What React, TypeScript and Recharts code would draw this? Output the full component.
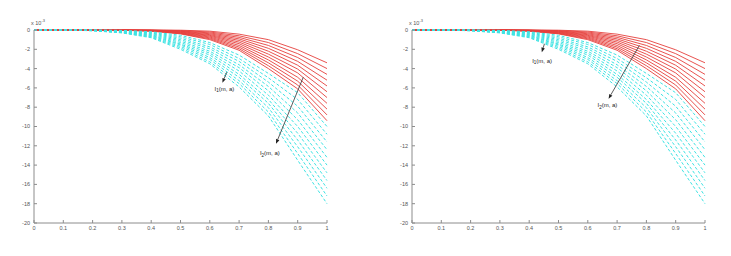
import React from 'react';
import { LineChart, Line, XAxis, YAxis, ReferenceLine, ReferenceDot } from 'recharts';

const xValues = [0, 0.1, 0.2, 0.3, 0.4, 0.5, 0.6, 0.7, 0.8, 0.9, 1];

// solid red family, top to bottom
const redCurves = [
  [0, 0, 0, 0, 0, -0.02, -0.12, -0.43, -1.0, -2.05, -3.4],
  [0, 0, 0, 0, -0.01, -0.06, -0.21, -0.6, -1.3, -2.45, -4.0],
  [0, 0, 0, 0, -0.02, -0.1, -0.3, -0.76, -1.6, -2.85, -4.6],
  [0, 0, 0, 0, -0.03, -0.13, -0.39, -0.92, -1.9, -3.25, -5.2],
  [0, 0, 0, -0.01, -0.04, -0.17, -0.48, -1.08, -2.2, -3.65, -5.8],
  [0, 0, 0, -0.01, -0.05, -0.21, -0.56, -1.25, -2.5, -4.05, -6.4],
  [0, 0, 0, -0.01, -0.06, -0.25, -0.64, -1.42, -2.8, -4.45, -7.0],
  [0, 0, 0, -0.02, -0.08, -0.29, -0.73, -1.6, -3.1, -4.9, -7.6],
  [0, 0, 0, -0.02, -0.09, -0.33, -0.82, -1.77, -3.4, -5.3, -8.2],
  [0, 0, 0, -0.02, -0.1, -0.37, -0.91, -1.94, -3.7, -5.7, -8.8],
  [0, 0, 0, -0.03, -0.12, -0.4, -1.0, -2.1, -4.0, -6.1, -9.4],
];

// dashed cyan family, top to bottom
const cyanCurves = [
  [0, 0, 0, -0.04, -0.18, -0.55, -1.3, -2.6, -4.5, -6.5, -10.0],
  [0, 0, -0.01, -0.07, -0.24, -0.7, -1.5, -2.95, -4.95, -7.2, -10.8],
  [0, 0, -0.02, -0.1, -0.3, -0.85, -1.75, -3.25, -5.4, -7.9, -11.6],
  [0, 0, -0.03, -0.12, -0.36, -1.0, -1.95, -3.6, -5.85, -8.6, -12.4],
  [0, 0, -0.03, -0.15, -0.43, -1.15, -2.2, -3.9, -6.3, -9.3, -13.2],
  [0, 0, -0.04, -0.17, -0.49, -1.3, -2.4, -4.25, -6.75, -10.0, -14.0],
  [0, 0, -0.05, -0.2, -0.55, -1.45, -2.6, -4.6, -7.2, -10.7, -14.8],
  [0, 0, -0.06, -0.22, -0.61, -1.55, -2.85, -4.9, -7.6, -11.4, -15.6],
  [0, 0, -0.06, -0.25, -0.68, -1.7, -3.05, -5.25, -8.05, -12.1, -16.4],
  [0, 0, -0.07, -0.27, -0.74, -1.85, -3.3, -5.55, -8.5, -12.8, -17.2],
  [0, 0, -0.08, -0.3, -0.8, -2.0, -3.5, -5.9, -8.9, -13.5, -18.0],
];

const xTicks = [0, 0.1, 0.2, 0.3, 0.4, 0.5, 0.6, 0.7, 0.8, 0.9, 1];
const yTicks = [0, -2, -4, -6, -8, -10, -12, -14, -16, -18, -20];

// annotations in data coords: [x1, y1, x2, y2]
const leftArrows = [
  [0.658, -4.37, 0.643, -5.47],
  [0.919, -4.89, 0.826, -11.78],
];
const leftLabels = [
  [0.65, -6.3, '1'],
  [0.805, -13.0, '2'],
];
const rightArrows = [
  [0.452, -1.43, 0.443, -2.3],
  [0.776, -1.6, 0.671, -7.12],
];
const rightLabels = [
  [0.444, -3.4, '1'],
  [0.667, -8.0, '2'],
];

const rows = xValues.map((x, i) => {
  const row: any = { x };
  redCurves.forEach((c, k) => (row['r' + k] = c[i]));
  cyanCurves.forEach((c, k) => (row['c' + k] = c[i]));
  return row;
});

const font = '"Liberation Sans", Arial, sans-serif';
const axisColor = '#8c8c8c';

const Arrow = (p: any) => {
  const { x1, y1, x2, y2 } = p;
  const a = Math.atan2(y2 - y1, x2 - x1);
  const len = 4.5;
  const w = 1.8;
  const bx = x2 - len * Math.cos(a);
  const by = y2 - len * Math.sin(a);
  const pts = `${x2},${y2} ${bx + w * Math.sin(a)},${by - w * Math.cos(a)} ${bx - w * Math.sin(a)},${by + w * Math.cos(a)}`;
  return (
    <g>
      <line x1={x1} y1={y1} x2={bx} y2={by} stroke="#333" strokeWidth={0.8} />
      <polygon points={pts} fill="#222" />
    </g>
  );
};

const labelShape = (sub: string) => (p: any) => (
  <text
    x={p.cx}
    y={p.cy}
    textAnchor="middle"
    fontSize={6}
    fill="#222"
    stroke="none"
    fontFamily={font}
    style={{ fill: '#222' }}
  >
    <tspan fill="#222">I</tspan>
    <tspan fill="#222" fontSize={4.5} dy={1.5}>
      {sub}
    </tspan>
    <tspan fill="#222" dy={-1.5}>
      (m, a)
    </tspan>
  </text>
);

function Panel({ width, right, arrows, labels }: { width: number; right: number; arrows: any[]; labels: any[] }) {
  const tickStyle = { fontSize: 5.5, fill: '#555', fontFamily: font };
  return (
    <LineChart width={width} height={256} data={rows} margin={{ top: 30, right, bottom: 0, left: 0 }}>
      <XAxis
        dataKey="x"
        type="number"
        domain={[0, 1]}
        ticks={xTicks}
        interval={0}
        height={33}
        tickSize={-3}
        tickMargin={6}
        stroke={axisColor}
        tick={tickStyle}
        tickFormatter={(v) => String(v)}
      />
      <XAxis
        xAxisId="top"
        orientation="top"
        dataKey="x"
        type="number"
        domain={[0, 1]}
        ticks={xTicks}
        interval={0}
        height={0}
        tickSize={-3}
        stroke={axisColor}
        tick={false}
      />
      <YAxis
        type="number"
        domain={[-20, 0]}
        ticks={yTicks}
        interval={0}
        width={34}
        tickSize={-3}
        tickMargin={7}
        stroke={axisColor}
        tick={tickStyle}
      />
      <YAxis
        yAxisId="right"
        orientation="right"
        type="number"
        domain={[-20, 0]}
        ticks={yTicks}
        interval={0}
        width={0}
        tickSize={-3}
        stroke={axisColor}
        tick={false}
      />
      {redCurves.map((_, k) => (
        <Line
          key={'r' + k}
          dataKey={'r' + k}
          type="linear"
          stroke="#e5403c"
          strokeWidth={0.9}
          dot={false}
          isAnimationActive={false}
        />
      ))}
      {cyanCurves.map((_, k) => (
        <Line
          key={'c' + k}
          dataKey={'c' + k}
          type="linear"
          stroke="#3ee3e3"
          strokeWidth={1}
          strokeDasharray="3 2"
          dot={false}
          isAnimationActive={false}
        />
      ))}
      {arrows.map((a, i) => (
        <ReferenceLine
          key={'a' + i}
          segment={[
            { x: a[0], y: a[1] },
            { x: a[2], y: a[3] },
          ]}
          shape={Arrow}
        />
      ))}
      {labels.map((l, i) => (
        <ReferenceDot key={'l' + i} x={l[0]} y={l[1]} r={0} shape={labelShape(l[2])} />
      ))}
    </LineChart>
  );
}

const Exponent = ({ left }: { left: number }) => (
  <div style={{ position: 'absolute', left, top: 19, fontSize: 5.5, color: '#555', fontFamily: font, lineHeight: 1 }}>
    x 10<sup style={{ fontSize: 4 }}>-3</sup>
  </div>
);

export default function App() {
  return (
    <div style={{ position: 'absolute', left: 0, top: 0, width: 731, height: 256, background: '#fff', overflow: 'hidden' }}>
      <div style={{ position: 'absolute', left: 0, top: 0 }}>
        <Panel width={365} right={38} arrows={leftArrows} labels={leftLabels} />
      </div>
      <div style={{ position: 'absolute', left: 378, top: 0 }}>
        <Panel width={353} right={26} arrows={rightArrows} labels={rightLabels} />
      </div>
      <Exponent left={31} />
      <Exponent left={409} />
    </div>
  );
}
